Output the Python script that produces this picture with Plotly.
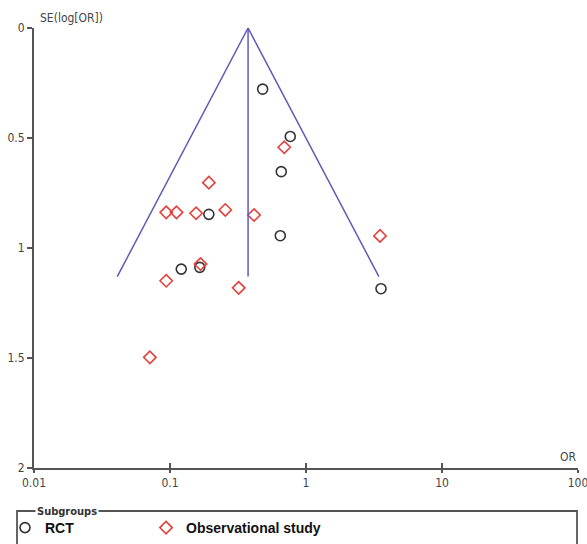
import math
import plotly.graph_objects as go

# ---- data ----
rct_or = [0.48, 0.766, 0.658, 0.193, 0.647, 0.121, 0.1655, 3.56]
rct_se = [0.278, 0.493, 0.653, 0.847, 0.944, 1.096, 1.088, 1.185]

obs_or = [0.692, 0.193, 0.0938, 0.1116, 0.1556, 0.255, 0.415, 3.5, 0.1675, 0.0938, 0.32, 0.0711]
obs_se = [0.542, 0.703, 0.838, 0.838, 0.842, 0.827, 0.85, 0.945, 1.073, 1.149, 1.181, 1.497]

pooled_or = 0.375
funnel_max_se = 1.13

x_tickvals = [0.01, 0.1, 1, 10, 100]
x_ticktext = ["0.01", "0.1", "1", "10", "100"]
y_tickvals = [0, 0.5, 1, 1.5, 2]
y_ticktext = ["0", "0.5", "1", "1.5", "2"]

# funnel limits (pseudo 95% CI)
lo = math.exp(math.log(pooled_or) - 1.96 * funnel_max_se)
hi = math.exp(math.log(pooled_or) + 1.96 * funnel_max_se)
funnel_x = [lo, pooled_or, hi, None, pooled_or, pooled_or]
funnel_y = [funnel_max_se, 0, funnel_max_se, None, 0, funnel_max_se]

# ---- layout helpers (pixel -> paper) ----
W_FIG, H_FIG = 587, 544
L, R, T, B = 34, 578, 28, 468
def px(x):
    return (x - L) / (R - L)
def py(y):
    return (B - y) / (B - T)

NARROW = "Liberation Sans Narrow, Arial Narrow, DejaVu Sans Condensed, sans-serif"
AXIS_COL = "#555555"

fig = go.Figure()

fig.add_trace(go.Scatter(
    x=funnel_x, y=funnel_y, mode="lines", xaxis="x2", yaxis="y",
    line=dict(color="#5c5cbd", width=1.5), showlegend=False, hoverinfo="skip"))

fig.add_trace(go.Scatter(
    x=rct_or, y=rct_se, mode="markers", name="RCT", legend="legend",
    marker=dict(symbol="circle-open", size=10, color="#333333",
                line=dict(width=1.6, color="#333333"))))

fig.add_trace(go.Scatter(
    x=obs_or, y=obs_se, mode="markers", name="Observational study", legend="legend2",
    marker=dict(symbol="diamond-open", size=9.5, color="#e5413b",
                line=dict(width=1.6, color="#e5413b"))))

tickfont = dict(family=NARROW, size=12, color="#444444")
legfont = dict(family="Liberation Sans, Arial, sans-serif", size=14,
               color="#111111", weight="bold")

fig.update_layout(
    width=W_FIG, height=H_FIG,
    margin=dict(l=L, r=W_FIG - R, t=T, b=H_FIG - B, autoexpand=False),
    paper_bgcolor="white", plot_bgcolor="white",
    xaxis=dict(type="log", range=[-2, 2], tickvals=x_tickvals, ticktext=x_ticktext,
               showgrid=False, zeroline=False, showline=True, linecolor=AXIS_COL,
               linewidth=2, ticks="outside", ticklen=3, tickwidth=1.5,
               tickcolor=AXIS_COL, tickfont=tickfont, fixedrange=True,
               ticklabeloverflow="allow"),
    xaxis2=dict(type="log", range=[-2, 2], overlaying="x", anchor="y",
                tickvals=x_tickvals, showticklabels=False, showgrid=False,
                zeroline=False, showline=False, ticks="inside", ticklen=5,
                tickwidth=1.5, tickcolor=AXIS_COL),
    yaxis=dict(range=[2, 0], tickvals=y_tickvals, ticktext=y_ticktext,
               showgrid=False, zeroline=False, showline=True, linecolor=AXIS_COL,
               linewidth=2, ticks="outside", ticklen=5, tickwidth=1.5,
               tickcolor=AXIS_COL, tickfont=tickfont, fixedrange=True,
               ticklabeloverflow="allow"),
    legend=dict(orientation="h", x=px(5), xanchor="left", y=py(528), yanchor="middle",
                bgcolor="rgba(0,0,0,0)", borderwidth=0, font=legfont),
    legend2=dict(orientation="h", x=px(146), xanchor="left", y=py(528), yanchor="middle",
                 bgcolor="rgba(0,0,0,0)", borderwidth=0, font=legfont),
    showlegend=True,
)

# legend frame
fig.add_shape(type="rect", xref="paper", yref="paper",
              x0=px(17), x1=px(577), y0=py(511), y1=py(560),
              line=dict(color="#555555", width=1.8), fillcolor="rgba(0,0,0,0)")

fig.add_annotation(xref="paper", yref="paper", x=px(35), y=py(511),
                   xanchor="left", yanchor="middle", showarrow=False,
                   text="<b>Subgroups</b>", bgcolor="white", borderpad=1,
                   font=dict(family=NARROW, size=11, color="#333333"))

fig.add_annotation(xref="paper", yref="paper", x=px(38), y=py(18),
                   xanchor="left", yanchor="middle", showarrow=False,
                   text="SE(log[OR])",
                   font=dict(family=NARROW, size=12, color="#444444"))

fig.add_annotation(xref="paper", yref="paper", x=px(578), y=py(457),
                   xanchor="right", yanchor="middle", showarrow=False,
                   text="OR",
                   font=dict(family=NARROW, size=12, color="#444444"))

fig.write_html("out.html",
               config={"displayModeBar": False},
               post_script="document.body.style.margin='0';document.body.style.overflow='hidden';")
